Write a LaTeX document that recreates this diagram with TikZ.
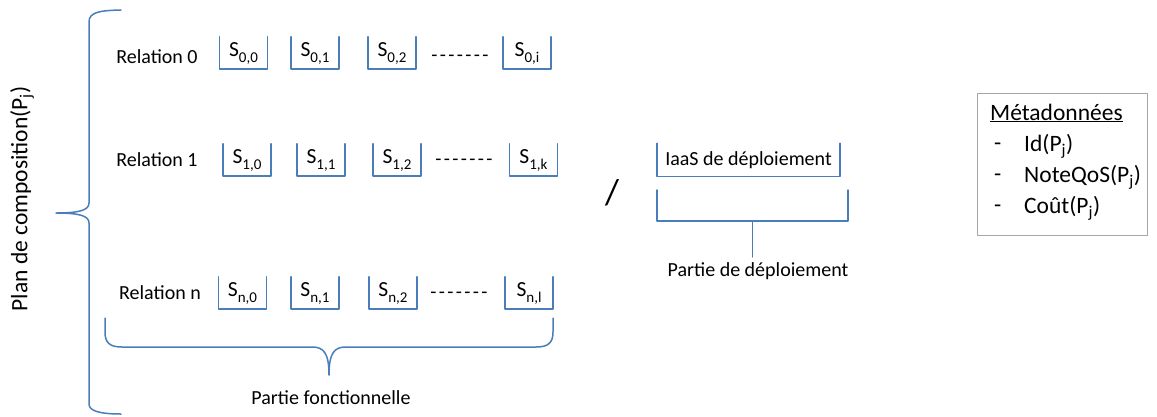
\documentclass[tikz,border=0pt]{standalone}
\usepackage{fontspec}
\setmainfont{Carlito}
\definecolor{bl}{HTML}{4A7EBB}
\definecolor{gr}{HTML}{A6A6A6}
\newcommand\lbfont{\fontsize{20}{23}\selectfont}
\newcommand\sfnt{\fontsize{21.5}{24}\selectfont}
\newcommand\mdfont{\fontsize{23.5}{27}\selectfont}
\newcommand\dashrow{-\kern2.4pt-\kern2.4pt-\kern2.4pt-\kern2.4pt-\kern2.4pt-\kern2.4pt-}
\newcommand\sub[1]{\raisebox{-0.28em}{\fontsize{15}{17}\selectfont #1}}
\begin{document}
\begin{tikzpicture}[x=1pt,y=-1pt,line join=round,line cap=round,
  ln/.style={draw=bl,line width=1.5pt},
  sbox/.style={minimum width=48pt,minimum height=32pt,inner sep=0pt,font=\sfnt},
  lbl/.style={font=\lbfont,inner sep=0pt},
  md/.style={font=\mdfont,inner sep=0pt,anchor=west}]
\useasboundingbox (0,0) rectangle (1157,416);
\fill[white] (0,0) rectangle (1157,416);

% left brace
\draw[ln] (121,10) .. controls (100,10.5) and (89,12) .. (89,22) -- (89,203)
  .. controls (89,210) and (80,213) .. (56,213)
  .. controls (80,213) and (89,216) .. (89,223) -- (89,404)
  .. controls (89,411) and (100,414) .. (121,414);
\node[rotate=90,font=\mdfont,inner sep=0pt] (plan) at (22,199) {Plan de composition(P\textsubscript{j})};

% row 0
\node[lbl] (r0) at (157,57) {Relation 0};
\node[sbox] (s00) at (243.5,53) {\raisebox{-2pt}{S\sub{0,0}}};
\node[sbox] (s01) at (315,53) {\raisebox{-2pt}{S\sub{0,1}}};
\node[sbox] (s02) at (392,53) {\raisebox{-2pt}{S\sub{0,2}}};
\node[lbl] (d0) at (460,58) {\dashrow};
\node[sbox] (s0i) at (527,53) {\raisebox{-1pt}{S\sub{0,i}}};
% row 1
\node[lbl] (r1) at (157,160) {Relation 1};
\node[sbox] (s10) at (247,160) {\raisebox{-6pt}{S\sub{1,0}}};
\node[sbox] (s11) at (321,160) {\raisebox{-3pt}{S\sub{1,1}}};
\node[sbox] (s12) at (397,160) {\raisebox{-5pt}{S\sub{1,2}}};
\node[lbl] (d1) at (464,162) {\dashrow};
\node[sbox] (s1k) at (533.5,160) {\raisebox{2pt}{S\sub{1,k}}};
% row n
\node[lbl] (rn) at (160,293) {Relation n};
\node[sbox] (sn0) at (242.5,293) {\raisebox{-3pt}{S\sub{n,0}}};
\node[sbox] (sn1) at (315,293) {\raisebox{-2pt}{S\sub{n,1}}};
\node[sbox] (sn2) at (393,293) {\raisebox{-2pt}{S\sub{n,2}}};
\node[lbl] (dn) at (459,295) {\dashrow};
\node[sbox] (snl) at (529,293) {\raisebox{-1pt}{S\sub{n,l}}};

\foreach \b in {s00,s01,s02,s0i,s10,s11,s12,s1k,sn0,sn1,sn2,snl}
  \draw[ln] (\b.north west) -- (\b.south west) -- (\b.south east) -- (\b.north east);

% bottom brace
\draw[ln] (105,318) -- (105,332) .. controls (105,343) and (110,347) .. (122,347) -- (312,347)
  .. controls (323,347) and (329,352) .. (329,375)
  .. controls (329,352) and (335,347) .. (346,347) -- (536,347)
  .. controls (548,347) and (553,343) .. (553,332) -- (553,318);
\node[lbl] (pf) at (331,398) {Partie fonctionnelle};

% deployment
\node[font=\fontsize{36}{40}\selectfont,inner sep=0pt] (sl) at (612,193) {/};
\node[sbox,font=\lbfont,minimum width=183pt,minimum height=33pt] (ia) at (748.5,160) {IaaS de déploiement};
\draw[ln] (ia.north west) -- (ia.south west) -- (ia.south east) -- (ia.north east);
\coordinate (bl1) at (657,190);
\coordinate (br1) at (848,190);
\coordinate (stem) at (752.5,221);
\draw[ln] (bl1) -- (bl1 |- stem) -- (br1 |- stem) -- (br1);
\node[lbl] (pd) at (758,271) {Partie de déploiement};
\draw[ln] (stem) -- (stem |- 0,257);

% metadata
\node[draw=gr,line width=1pt,minimum width=170pt,minimum height=142pt,inner sep=0pt] (meta) at (1062,164) {};
\node[md] (mt) at (990,113) {\underline{Métadonnées}};
\node[md] (m1d) at (994,147) {-};
\node[md] (m1) at (1024,146) {Id(P\textsubscript{j})};
\node[md] (m2d) at (994,178) {-};
\node[md] (m2) at (1024,177) {NoteQoS(P\textsubscript{j})};
\node[md] (m3d) at (994,209) {-};
\node[md] (m3) at (1024,208) {Coût(P\textsubscript{j})};
\end{tikzpicture}
\end{document}
